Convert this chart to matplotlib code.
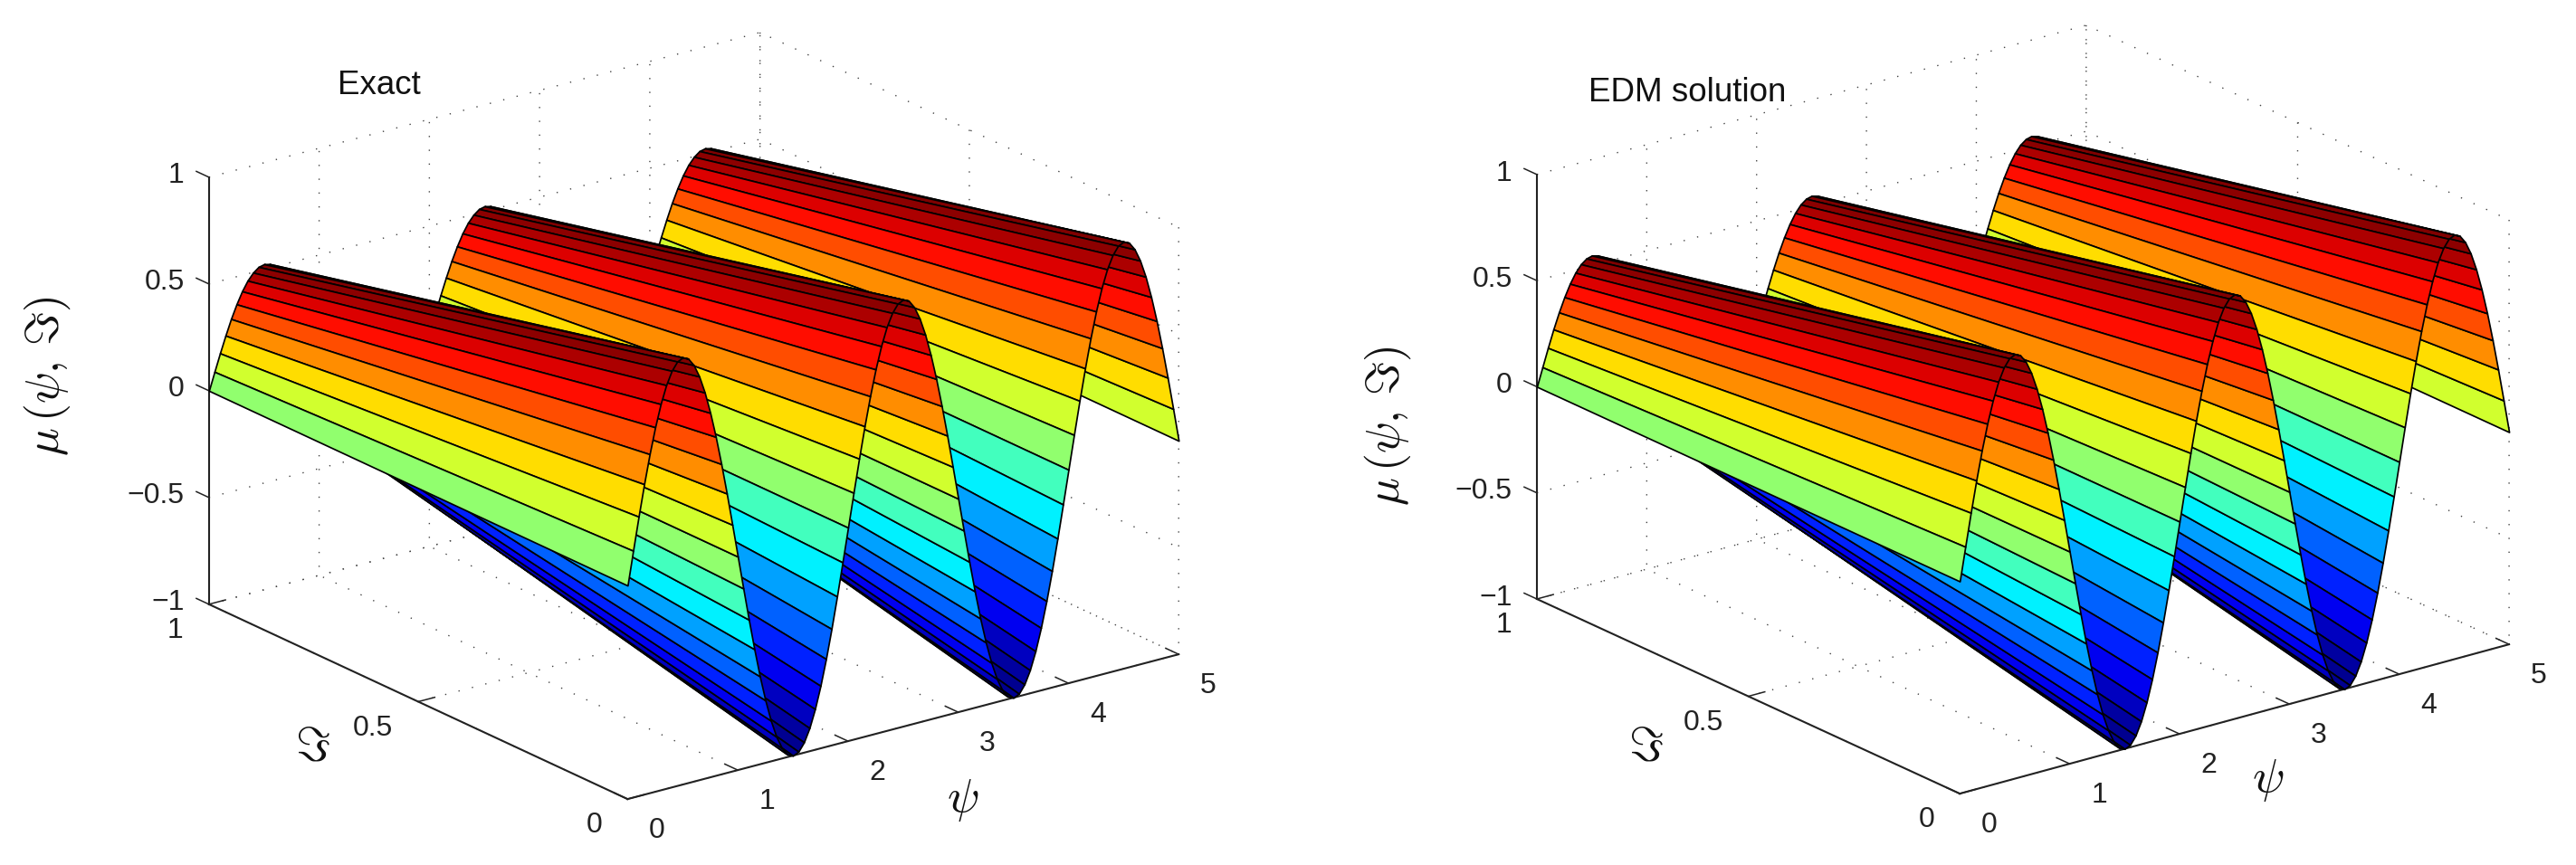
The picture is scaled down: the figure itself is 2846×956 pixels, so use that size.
import numpy as np
import matplotlib
matplotlib.use('Agg')
import matplotlib.pyplot as plt
from matplotlib.colors import LinearSegmentedColormap, ListedColormap

plt.rcParams['font.family'] = ['Liberation Sans', 'DejaVu Sans']
plt.rcParams['mathtext.fontset'] = 'cm'

W, H = 2846, 956

# Values: psi samples, mu along the zeta=0 and zeta=1 edges
psi_grid = [0.00, 0.05, 0.10, 0.15, 0.20, 0.25, 0.30, 0.35, 0.40, 0.45, 0.50, 0.55, 0.60, 0.65, 0.70, 0.75, 0.80,
            0.85, 0.90, 0.95, 1.00, 1.05, 1.10, 1.15, 1.20, 1.25, 1.30, 1.35, 1.40, 1.45, 1.50, 1.55, 1.60, 1.65,
            1.70, 1.75, 1.80, 1.85, 1.90, 1.95, 2.00, 2.05, 2.10, 2.15, 2.20, 2.25, 2.30, 2.35, 2.40, 2.45, 2.50,
            2.55, 2.60, 2.65, 2.70, 2.75, 2.80, 2.85, 2.90, 2.95, 3.00, 3.05, 3.10, 3.15, 3.20, 3.25, 3.30, 3.35,
            3.40, 3.45, 3.50, 3.55, 3.60, 3.65, 3.70, 3.75, 3.80, 3.85, 3.90, 3.95, 4.00, 4.05, 4.10, 4.15, 4.20,
            4.25, 4.30, 4.35, 4.40, 4.45, 4.50, 4.55, 4.60, 4.65, 4.70, 4.75, 4.80, 4.85, 4.90, 4.95, 5.00]
zeta_edges = [0, 1]

mu_front = [0.000, 0.156, 0.309, 0.454, 0.588, 0.707, 0.809, 0.891, 0.951, 0.988, 1.000, 0.988, 0.951, 0.891, 0.809,
            0.707, 0.588, 0.454, 0.309, 0.156, 0.000, -0.156, -0.309, -0.454, -0.588, -0.707, -0.809, -0.891, -0.951,
            -0.988, -1.000, -0.988, -0.951, -0.891, -0.809, -0.707, -0.588, -0.454, -0.309, -0.156, 0.000, 0.156,
            0.309, 0.454, 0.588, 0.707, 0.809, 0.891, 0.951, 0.988, 1.000, 0.988, 0.951, 0.891, 0.809, 0.707, 0.588,
            0.454, 0.309, 0.156, 0.000, -0.156, -0.309, -0.454, -0.588, -0.707, -0.809, -0.891, -0.951, -0.988,
            -1.000, -0.988, -0.951, -0.891, -0.809, -0.707, -0.588, -0.454, -0.309, -0.156, 0.000, 0.156, 0.309,
            0.454, 0.588, 0.707, 0.809, 0.891, 0.951, 0.988, 1.000, 0.988, 0.951, 0.891, 0.809, 0.707, 0.588, 0.454,
            0.309, 0.156, 0.000]
mu_exact_back = [0.000, 0.082, 0.162, 0.238, 0.309, 0.371, 0.425, 0.468, 0.499, 0.519, 0.525, 0.519, 0.499, 0.468,
                 0.425, 0.371, 0.309, 0.238, 0.162, 0.082, 0.000, -0.082, -0.162, -0.238, -0.309, -0.371, -0.425,
                 -0.468, -0.499, -0.519, -0.525, -0.519, -0.499, -0.468, -0.425, -0.371, -0.309, -0.238, -0.162,
                 -0.082, 0.000, 0.082, 0.162, 0.238, 0.309, 0.371, 0.425, 0.468, 0.499, 0.519, 0.525, 0.519, 0.499,
                 0.468, 0.425, 0.371, 0.309, 0.238, 0.162, 0.082, 0.000, -0.082, -0.162, -0.238, -0.309, -0.371,
                 -0.425, -0.468, -0.499, -0.519, -0.525, -0.519, -0.499, -0.468, -0.425, -0.371, -0.309, -0.238,
                 -0.162, -0.082, 0.000, 0.082, 0.162, 0.238, 0.309, 0.371, 0.425, 0.468, 0.499, 0.519, 0.525, 0.519,
                 0.499, 0.468, 0.425, 0.371, 0.309, 0.238, 0.162, 0.082, 0.000]
mu_edm_back = [0.000, 0.085, 0.169, 0.249, 0.322, 0.387, 0.443, 0.488, 0.521, 0.541, 0.548, 0.541, 0.521, 0.488,
               0.443, 0.387, 0.322, 0.249, 0.169, 0.085, 0.000, -0.085, -0.169, -0.249, -0.322, -0.387, -0.443,
               -0.488, -0.521, -0.541, -0.548, -0.541, -0.521, -0.488, -0.443, -0.387, -0.322, -0.249, -0.169,
               -0.085, 0.000, 0.085, 0.169, 0.249, 0.322, 0.387, 0.443, 0.488, 0.521, 0.541, 0.548, 0.541, 0.521,
               0.488, 0.443, 0.387, 0.322, 0.249, 0.169, 0.085, 0.000, -0.085, -0.169, -0.249, -0.322, -0.387,
               -0.443, -0.488, -0.521, -0.541, -0.548, -0.541, -0.521, -0.488, -0.443, -0.387, -0.322, -0.249,
               -0.169, -0.085, 0.000, 0.085, 0.169, 0.249, 0.322, 0.387, 0.443, 0.488, 0.521, 0.541, 0.548, 0.541,
               0.521, 0.488, 0.443, 0.387, 0.322, 0.249, 0.169, 0.085, 0.000]

psi_ticks = [0, 1, 2, 3, 4, 5]
zeta_ticks = [0, 0.5, 1]
zeta_labels = ['0', '0.5', '1']
mu_ticks = [-1, -0.5, 0, 0.5, 1]
mu_labels = ['\u22121', '\u22120.5', '0', '0.5', '1']

# MATLAB flavour of jet, 64 flat steps (matplotlib's own jet has other knots)
jet_nodes = LinearSegmentedColormap.from_list('mjet', [(0, (0, 0, 0.5)), (0.125, (0, 0, 1)), (0.375, (0, 1, 1)),
                                                       (0.625, (1, 1, 0)), (0.875, (1, 0, 0)), (1, (0.5, 0, 0))])
jet = ListedColormap([jet_nodes((k + 1)/64) for k in range(64)])


def draw_panel(fig, back, center, lengths, elev, azim):
    # lengths: pixel length of the three box edges, center: pixel position of the box center
    side = np.linalg.norm(lengths)*1.85/1.9057
    left = center[0] - 0.5135*side
    bottom = (H - center[1]) - 0.5135*side
    ax = fig.add_axes([left/W, bottom/H, side/W, side/H], projection='3d', computed_zorder=False)
    ax.set_proj_type('ortho')
    ax.view_init(elev=elev, azim=azim)
    ax.set_box_aspect(lengths, zoom=1.0)
    ax.set_facecolor('none')

    # one strip per psi step, far strips first so the ridges hide each other properly
    n = len(psi_grid) - 1
    for i in range(n):
        X, Y = np.meshgrid(psi_grid[i:i+2], zeta_edges)
        Z = np.array([mu_front[i:i+2], back[i:i+2]])
        col = jet((mu_front[i] + 1)/2)
        ax.plot_surface(X, Y, Z, color=col, edgecolor='k', linewidth=1.25, shade=False,
                        rstride=1, cstride=1, zorder=n - i)

    ax.set_xlim(0, 5)
    ax.set_ylim(0, 1)
    ax.set_zlim(-1, 1)
    ax.set_xticks(psi_ticks)
    ax.set_yticks(zeta_ticks)
    ax.set_yticklabels(zeta_labels)
    ax.set_zticks(mu_ticks)
    ax.set_zticklabels(mu_labels)
    ax.tick_params(axis='both', labelsize=23, colors='#222222')
    ax.tick_params(axis='x', pad=14)
    ax.tick_params(axis='y', pad=12)
    ax.tick_params(axis='z', pad=3)
    plt.setp(ax.get_xticklabels(), ha='left', va='center')
    plt.setp(ax.get_yticklabels(), ha='right', va='center')
    plt.setp(ax.get_zticklabels(), ha='right', va='center')

    # z ticks lean along the zeta direction in the original
    info = {k: dict(v) for k, v in ax.zaxis._AXINFO.items()}
    info['z']['tickdir'] = 1
    ax.zaxis._AXINFO = info

    for axis in (ax.xaxis, ax.yaxis, ax.zaxis):
        axis.set_pane_color((1, 1, 1, 0))
        axis.pane.set_edgecolor('none')
        axis.line.set_color('#222222')
        axis.line.set_linewidth(1.5)
        axis._axinfo['grid'].update(color='#444444', linewidth=1.0, linestyle=(0, (1, 10)))
        axis._axinfo['tick'].update(inward_factor=0.0, outward_factor=0.375, linewidth={True: 1.1, False: 1.1})
    return ax


fig = plt.figure(figsize=(W/100, H/100), dpi=100, facecolor='w')

draw_panel(fig, mu_exact_back, (766.5, 459.5), (761.6, 770.0, 503.8), 20.47, -126.92)
draw_panel(fig, mu_edm_back, (2235.0, 452.5), (765.4, 766.8, 501.6), 20.72, -127.54)

label = dict(ha='center', va='center', color='#111111')
fig.text(419/W, 1 - 94/H, 'Exact', fontsize=26.5, **label)
fig.text(1864/W, 1 - 103/H, 'EDM solution', fontsize=26.5, **label)

for zx, zy, yx, yy, xx, xy in [(52, 416, 345, 827, 1064, 885), (1533, 471, 1818, 827, 2506, 862)]:
    fig.text(zx/W, 1 - zy/H, r'$\mu\,(\psi,\,\Im)$', fontsize=37, rotation=90, **label)
    fig.text(yx/W, 1 - yy/H, r'$\Im$', fontsize=38, **label)
    fig.text(xx/W, 1 - xy/H, r'$\psi$', fontsize=38, **label)

fig.savefig('out.png', dpi=100)
